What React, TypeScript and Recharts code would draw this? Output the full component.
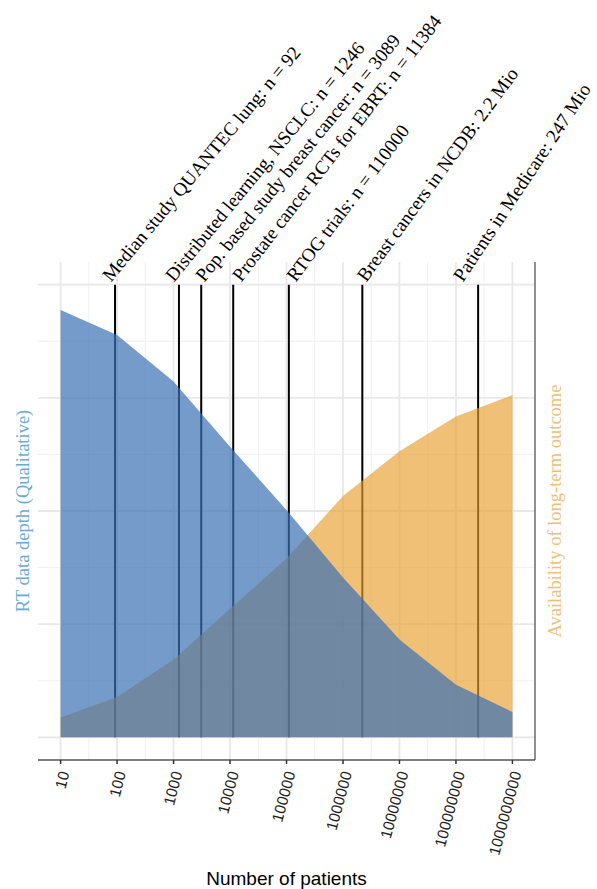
import React from 'react';
import { ComposedChart, Area, Line, XAxis, YAxis, ReferenceLine, Label } from 'recharts';

// number of patients (log scale) and the two qualitative curves
const patients = [10, 100, 1000, 10000, 100000, 1000000, 10000000, 100000000, 1000000000];
const rtDepth = [0.944, 0.889, 0.786, 0.642, 0.502, 0.353, 0.216, 0.116, 0.056];
const outcome = [0.044, 0.089, 0.172, 0.284, 0.395, 0.533, 0.632, 0.709, 0.756];

// studies marked as vertical lines
const studyNames = [
  'Median study QUANTEC lung: n = 92',
  'Distributed learning, NSCLC: n = 1246',
  'Pop. based study breast cancer: n = 3089',
  'Prostate cancer RCTs for EBRT: n = 11384',
  'RTOG trials: n = 110000',
  'Breast cancers in NCDB: 2.2 Mio',
  'Patients in Medicare: 247 Mio',
];
const studySizes = [92, 1246, 3089, 11384, 110000, 2200000, 247000000];

// grid breaks
const xTicks = patients;
const xMinor = [31.6, 316, 3160, 31600, 316000, 3160000, 31600000, 316000000];
const yMajor = [0, 0.25, 0.5, 0.75, 1];
const yMinor = [0.125, 0.375, 0.625, 0.875];

// label placement (the labels were set by hand, angles differ a little)
const labelTilt = [50.3, 50.7, 50.8, 52.4, 53, 53.8, 56.4];
const labelNudge = [-4, -5, 3, 8, 7, 4, -15];

const data = patients.map((n, i) => ({ n, rt: rtDepth[i], lto: outcome[i] }));

const W = 597;
const H = 889;
const X_DOMAIN = [3.98, 2.51e9];
const Y_DOMAIN = [-0.05, 1.05];
const SERIF = '"Liberation Serif", "Times New Roman", serif';
const SANS = '"Liberation Sans", Arial, sans-serif';

const StudyLabel = (props: any) => {
  const { viewBox, text, tilt, nudge } = props;
  const x = viewBox.x + nudge;
  const y = viewBox.y - 2;
  return (
    <text x={x} y={y} transform={`rotate(${-tilt}, ${x}, ${y})`} fontFamily={SERIF} fontSize={19.1} fill="#000">
      {text}
    </text>
  );
};

const PatientTick = (props: any) => {
  const { x, y, payload } = props;
  const tx = x + 9;
  const ty = y + 7;
  return (
    <text x={tx} y={ty} transform={`rotate(-75, ${tx}, ${ty})`} textAnchor="end" fontFamily={SANS} fontSize={15.5} fill="#222">
      {String(payload.value)}
    </text>
  );
};

export default function App() {
  return (
    <div style={{ position: 'absolute', left: 0, top: 0, width: W, height: H, background: '#fff' }}>
      {/* background layer: grid, study lines, axes and titles */}
      <div style={{ position: 'absolute', left: 0, top: 0 }}>
        <ComposedChart width={W} height={H} data={data} margin={{ top: 262, right: 24, bottom: 0, left: 0 }}>
          <XAxis
            dataKey="n"
            type="number"
            scale="log"
            domain={X_DOMAIN}
            allowDataOverflow
            ticks={xTicks}
            interval={0}
            height={129}
            tick={<PatientTick />}
            tickSize={4}
            axisLine={{ stroke: '#000', strokeWidth: 1.2 }}
            tickLine={{ stroke: '#333', strokeWidth: 1.5 }}
          >
            <Label value="Number of patients" position="insideBottom" offset={4} fill="#000" fontSize={19} fontFamily={SANS} />
          </XAxis>
          <YAxis yAxisId="left" type="number" domain={Y_DOMAIN} allowDataOverflow width={38} tick={false} tickLine={false} axisLine={false}>
            <Label value="RT data depth (Qualitative)" angle={-90} position="center" dx={3} fill="#68ABDA" fontSize={18.5} fontFamily={SERIF} />
          </YAxis>
          <YAxis
            yAxisId="right"
            orientation="right"
            type="number"
            domain={Y_DOMAIN}
            allowDataOverflow
            width={38}
            tick={false}
            tickLine={false}
            axisLine={{ stroke: '#222', strokeWidth: 1 }}
          >
            <Label value="Availability of long-term outcome" angle={-90} position="center" fill="#EFBF75" fontSize={18.5} fontFamily={SERIF} />
          </YAxis>

          {/* invisible series so the chart lays out its reference marks */}
          <Line yAxisId="left" dataKey="rt" stroke="none" dot={false} activeDot={false} isAnimationActive={false} />

          {xMinor.map((v) => (
            <ReferenceLine key={`xm${v}`} yAxisId="left" x={v} stroke="#F0F0F0" strokeWidth={1} />
          ))}
          {yMinor.map((v) => (
            <ReferenceLine key={`ym${v}`} yAxisId="left" y={v} stroke="#F0F0F0" strokeWidth={1} />
          ))}
          {xTicks.map((v) => (
            <ReferenceLine key={`xM${v}`} yAxisId="left" x={v} stroke="#E8E8E8" strokeWidth={1.8} />
          ))}
          {yMajor.map((v) => (
            <ReferenceLine key={`yM${v}`} yAxisId="left" y={v} stroke="#E8E8E8" strokeWidth={1.8} />
          ))}

          {studySizes.map((n, i) => (
            <ReferenceLine
              key={`s${n}`}
              yAxisId="left"
              segment={[{ x: n, y: 0 }, { x: n, y: 1 }]}
              stroke="#000"
              strokeWidth={2}
              label={<StudyLabel text={studyNames[i]} tilt={labelTilt[i]} nudge={labelNudge[i]} />}
            />
          ))}
        </ComposedChart>
      </div>

      {/* foreground layer: translucent areas over the lines */}
      <div style={{ position: 'absolute', left: 0, top: 0 }}>
        <ComposedChart width={W} height={H} data={data} margin={{ top: 262, right: 62, bottom: 129, left: 38 }}>
          <XAxis dataKey="n" type="number" scale="log" domain={X_DOMAIN} allowDataOverflow hide />
          <YAxis type="number" domain={Y_DOMAIN} allowDataOverflow hide />
          <Area
            dataKey="lto"
            type="linear"
            baseValue={0}
            stroke="none"
            fill="#E89E2C"
            fillOpacity={0.65}
            isAnimationActive={false}
          />
          <Area
            dataKey="rt"
            type="linear"
            baseValue={0}
            stroke="none"
            fill="#3A70B5"
            fillOpacity={0.7}
            isAnimationActive={false}
          />
        </ComposedChart>
      </div>
    </div>
  );
}
